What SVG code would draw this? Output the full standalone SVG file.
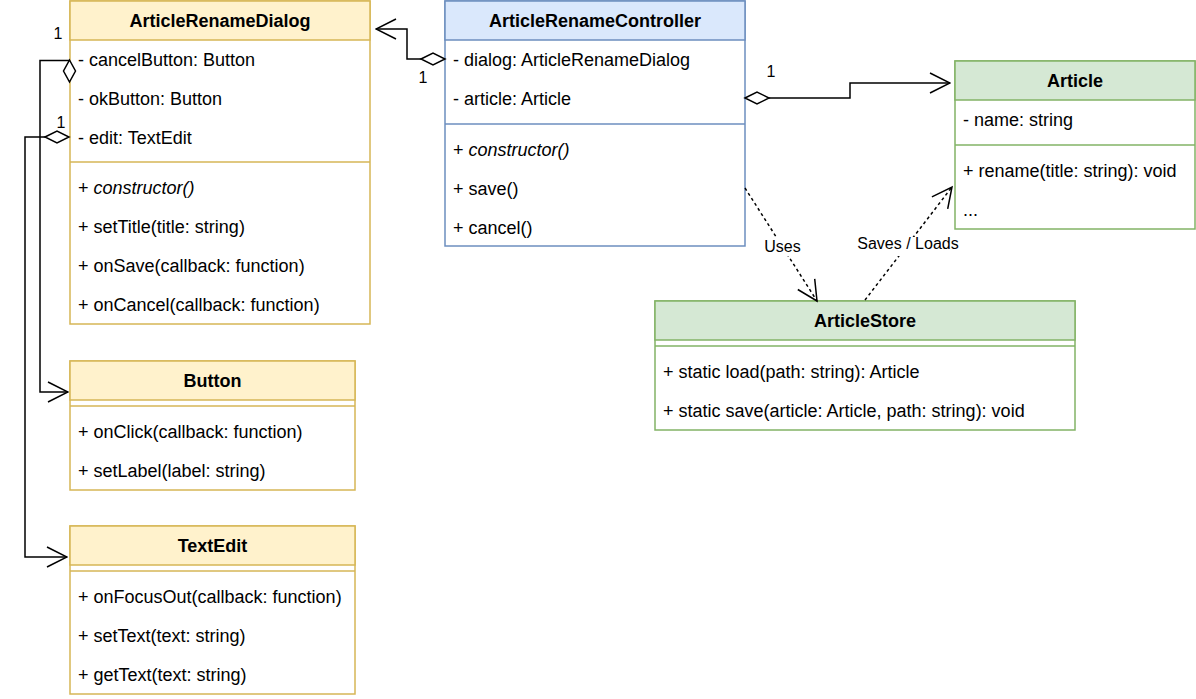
<svg xmlns="http://www.w3.org/2000/svg" width="1196" height="699" viewBox="0 0 1196 699">
<style>
text{font-family:"Liberation Sans",Arial,sans-serif;fill:#000}
.m{font-size:18px}
.h{font-size:18px;font-weight:bold;text-anchor:middle}
.lc{font-size:16px;text-anchor:middle}
.y .b{fill:#fff;stroke:#d6b656;stroke-width:1.5}
.y .hd{fill:#fff2cc;stroke:#d6b656;stroke-width:1.5}
.y .s{stroke:#d6b656;stroke-width:1.5}
.bl .b{fill:#fff;stroke:#6c8ebf;stroke-width:1.5}
.bl .hd{fill:#dae8fc;stroke:#6c8ebf;stroke-width:1.5}
.bl .s{stroke:#6c8ebf;stroke-width:1.5}
.g .b{fill:#fff;stroke:#82b366;stroke-width:1.5}
.g .hd{fill:#d5e8d4;stroke:#82b366;stroke-width:1.5}
.g .s{stroke:#82b366;stroke-width:1.5}
.e{fill:none;stroke:#000;stroke-width:1.5}
.d{fill:none;stroke:#000;stroke-width:1.5;stroke-dasharray:3 3}
.dm{fill:#fff;stroke:#000;stroke-width:1.5}
.ah{fill:none;stroke:#000;stroke-width:1.5}
</style>
<defs>
<marker id="open" markerUnits="userSpaceOnUse" viewBox="-1 -1 22 22" refX="20" refY="10" markerWidth="22" markerHeight="22" orient="auto">
<path class="ah" d="M0,0 L20,10 L0,20"/>
</marker>
</defs>

<g id="ArticleRenameDialog" class="y">
<rect class="b" x="70" y="1" width="300" height="323"/>
<rect class="hd" x="70" y="1" width="300" height="39"/>
<line class="s" x1="70" y1="162" x2="370" y2="162"/>
<text class="h" x="220" y="27">ArticleRenameDialog</text>
<text class="m" x="78" y="66">- cancelButton: Button</text>
<text class="m" x="78" y="105">- okButton: Button</text>
<text class="m" x="78" y="144">- edit: TextEdit</text>
<text class="m" x="78" y="194">+ <tspan font-style="italic">constructor()</tspan></text>
<text class="m" x="78" y="233">+ setTitle(title: string)</text>
<text class="m" x="78" y="272">+ onSave(callback: function)</text>
<text class="m" x="78" y="311">+ onCancel(callback: function)</text>
</g>

<g id="ArticleRenameController" class="bl">
<rect class="b" x="445" y="1" width="300" height="245"/>
<rect class="hd" x="445" y="1" width="300" height="39"/>
<line class="s" x1="445" y1="124" x2="745" y2="124"/>
<text class="h" x="595" y="27">ArticleRenameController</text>
<text class="m" x="453" y="66">- dialog: ArticleRenameDialog</text>
<text class="m" x="453" y="105">- article: Article</text>
<text class="m" x="453" y="156">+ <tspan font-style="italic">constructor()</tspan></text>
<text class="m" x="453" y="195">+ save()</text>
<text class="m" x="453" y="234">+ cancel()</text>
</g>

<g id="Article" class="g">
<rect class="b" x="955" y="61" width="240" height="168"/>
<rect class="hd" x="955" y="61" width="240" height="39"/>
<line class="s" x1="955" y1="145" x2="1195" y2="145"/>
<text class="h" x="1075" y="87">Article</text>
<text class="m" x="963" y="126">- name: string</text>
<text class="m" x="963" y="177">+ rename(title: string): void</text>
<text class="m" x="963" y="216">...</text>
</g>

<g id="ArticleStore" class="g">
<rect class="b" x="655" y="301" width="420" height="129"/>
<rect class="hd" x="655" y="301" width="420" height="39"/>
<line class="s" x1="655" y1="346" x2="1075" y2="346"/>
<text class="h" x="865" y="327">ArticleStore</text>
<text class="m" x="663" y="378">+ static load(path: string): Article</text>
<text class="m" x="663" y="417">+ static save(article: Article, path: string): void</text>
</g>

<g id="Button" class="y">
<rect class="b" x="70" y="361" width="285" height="129"/>
<rect class="hd" x="70" y="361" width="285" height="39"/>
<line class="s" x1="70" y1="406" x2="355" y2="406"/>
<text class="h" x="212.5" y="387">Button</text>
<text class="m" x="78" y="438">+ onClick(callback: function)</text>
<text class="m" x="78" y="477">+ setLabel(label: string)</text>
</g>

<g id="TextEdit" class="y">
<rect class="b" x="70" y="526" width="285" height="168"/>
<rect class="hd" x="70" y="526" width="285" height="39"/>
<line class="s" x1="70" y1="571" x2="355" y2="571"/>
<text class="h" x="212.5" y="552">TextEdit</text>
<text class="m" x="78" y="603">+ onFocusOut(callback: function)</text>
<text class="m" x="78" y="642">+ setText(text: string)</text>
<text class="m" x="78" y="681">+ getText(text: string)</text>
</g>

<g id="connectors">
<polyline class="e" points="421,59 407,59 407,29 376,29" marker-end="url(#open)"/>
<polygon class="dm" points="421,59 433,53 445,59 433,65"/>
<text class="lc" x="423" y="83">1</text>

<polyline class="e" points="769,98 850,98 850,83 950,83" marker-end="url(#open)"/>
<polygon class="dm" points="745,98 757,92 769,98 757,104"/>
<text class="lc" x="771" y="77">1</text>

<polyline class="e" points="69.5,60.5 40,60.5 40,392 68,392" marker-end="url(#open)"/>
<polygon class="dm" points="69.5,60 75.5,71 69.5,82 63.5,71"/>
<text class="lc" x="58" y="39">1</text>

<polyline class="e" points="45,137 25,137 25,557 67,557" marker-end="url(#open)"/>
<polygon class="dm" points="45,137 57,131 69,137 57,143"/>
<text class="lc" x="61" y="128">1</text>

<line class="d" x1="745" y1="188" x2="817" y2="301"/>
<polyline class="ah" points="797.8,289.5 817,301 814.7,278.8"/>
<rect x="763" y="237" width="40" height="19" fill="#fff"/>
<text class="lc" x="782.5" y="252">Uses</text>

<line class="d" x1="865" y1="300" x2="952" y2="187"/>
<polyline class="ah" points="931.9,196.8 952,187 947.7,208.9"/>
<rect x="855" y="237" width="107" height="19" fill="#fff"/>
<text class="lc" x="908" y="249">Saves / Loads</text>
</g>
</svg>
